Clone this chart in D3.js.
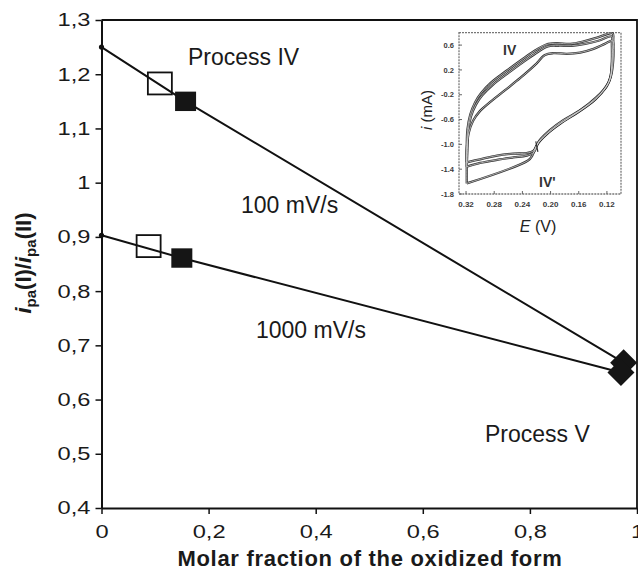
<!DOCTYPE html>
<html>
<head>
<meta charset="utf-8">
<script src="https://cdn.jsdelivr.net/npm/d3@7"></script>
<style>
  html, body { margin: 0; padding: 0; background: #fff; }
  svg { display: block; font-family: "Liberation Sans", Arial, Helvetica, sans-serif; }
</style>
</head>
<body>
<svg id="chart" width="638" height="572"></svg>
<script>
// ---- main plot: peak current ratio vs. molar fraction of the oxidized form ----
const xTickValues = [0, 0.2, 0.4, 0.6, 0.8, 1];
const xTickLabels = ["0", "0,2", "0,4", "0,6", "0,8", "1"];
const yTickValues = [0.4, 0.5, 0.6, 0.7, 0.8, 0.9, 1.0, 1.1, 1.2, 1.3];
const yTickLabels = ["0,4", "0,5", "0,6", "0,7", "0,8", "0,9", "1", "1,1", "1,2", "1,3"];

// 100 mV/s trend line
const fraction100 = [0, 0.157, 0.975];
const ratio100 = [1.25, 1.15, 0.668];
// 1000 mV/s trend line
const fraction1000 = [0, 0.15, 0.97];
const ratio1000 = [0.903, 0.861, 0.65];

// markers: open squares, filled squares, filled diamonds (100 mV/s first, then 1000 mV/s)
const openFraction = [0.109, 0.088];
const openRatio = [1.183, 0.883];
const filledFraction = [0.157, 0.15];
const filledRatio = [1.15, 0.861];
const diamondFraction = [0.975, 0.97];
const diamondRatio = [0.668, 0.65];

// ---- inset: cyclic voltammograms, E (V) vs i (mA) ----
const insetXTicks = [0.32, 0.28, 0.24, 0.20, 0.16, 0.12];
const insetXLabels = ["0.32", "0.28", "0.24", "0.20", "0.16", "0.12"];
const insetYTicks = [0.6, 0.2, -0.2, -0.6, -1.0, -1.4, -1.8];
const insetYLabels = ["0.6", "0.2", "-0.2", "-0.6", "-1.0", "-1.4", "-1.8"];

const cvScan1 = [
  [0.319, -1.29], [0.319, -1.02], [0.318, -0.76], [0.314, -0.52], [0.307, -0.32],
  [0.299, -0.18], [0.285, -0.01], [0.262, 0.19], [0.239, 0.38], [0.221, 0.52],
  [0.206, 0.61], [0.191, 0.63], [0.172, 0.62], [0.153, 0.66], [0.134, 0.72],
  [0.112, 0.79], [0.111, 0.68], [0.111, 0.36], [0.114, 0.11], [0.120, -0.06],
  [0.134, -0.23], [0.158, -0.45], [0.182, -0.61], [0.201, -0.77], [0.216, -0.94],
  [0.224, -1.10], [0.234, -1.14], [0.253, -1.15], [0.276, -1.18], [0.300, -1.24],
  [0.319, -1.29]
];
const cvScan2 = [
  [0.319, -1.36], [0.318, -1.08], [0.317, -0.78], [0.313, -0.55], [0.306, -0.36],
  [0.297, -0.21], [0.282, -0.04], [0.259, 0.16], [0.236, 0.35], [0.218, 0.49],
  [0.204, 0.58], [0.189, 0.59], [0.170, 0.59], [0.151, 0.62], [0.132, 0.67],
  [0.113, 0.74], [0.113, 0.64], [0.113, 0.34], [0.115, 0.09], [0.122, -0.09],
  [0.136, -0.27], [0.160, -0.47], [0.183, -0.64], [0.202, -0.80], [0.217, -0.97],
  [0.224, -1.13], [0.234, -1.18], [0.253, -1.21], [0.276, -1.25], [0.300, -1.30],
  [0.319, -1.36]
];
const cvScan3 = [
  [0.319, -1.63], [0.319, -1.34], [0.319, -1.08], [0.316, -0.81], [0.310, -0.62],
  [0.300, -0.46], [0.286, -0.32], [0.265, -0.13], [0.243, 0.07], [0.222, 0.28],
  [0.208, 0.44], [0.196, 0.47], [0.177, 0.46], [0.158, 0.48], [0.139, 0.54],
  [0.123, 0.62], [0.112, 0.67], [0.112, 0.52], [0.113, 0.26], [0.116, 0.04],
  [0.124, -0.11], [0.138, -0.29], [0.162, -0.49], [0.186, -0.66], [0.204, -0.82],
  [0.219, -1.00], [0.226, -1.18], [0.232, -1.26], [0.319, -1.63]
];
// short slanted mark on the cathodic branch
const cvMark = [[0.221, -0.95], [0.218, -1.12]];

const svg = d3.select("#chart");
svg.append("rect").attr("width", 638).attr("height", 572).attr("fill", "#fff");

const x = d3.scaleLinear().domain([0, 1]).range([101.5, 637]);
const y = d3.scaleLinear().domain([0.4, 1.3]).range([508, 20]);

// frame: top and right borders
svg.append("path")
  .attr("d", `M${x(0)},${y(1.3)}H${x(1)}V${y(0.4)}`)
  .attr("fill", "none").attr("stroke", "#111").attr("stroke-width", 1.8);

// axes
const xAxis = svg.append("g")
  .attr("transform", `translate(0,${y(0.4)})`)
  .call(d3.axisBottom(x).tickValues(xTickValues)
    .tickFormat((d, i) => xTickLabels[i]).tickSize(6).tickPadding(11).tickSizeOuter(0));
const yAxis = svg.append("g")
  .attr("transform", `translate(${x(0)},0)`)
  .call(d3.axisLeft(y).tickValues(yTickValues)
    .tickFormat((d, i) => yTickLabels[i]).tickSize(6).tickSizeOuter(0));

[xAxis, yAxis].forEach(g => {
  g.select(".domain").attr("stroke", "#111").attr("stroke-width", 2);
  g.selectAll(".tick line").attr("stroke", "#111").attr("stroke-width", 1.5);
  g.selectAll(".tick text")
    .attr("fill", "#1a1a1a")
    .attr("font-family", "'Liberation Sans', Arial, sans-serif")
    .attr("font-size", 18.5)
    .attr("transform", "scale(1.28,1)");
});
yAxis.selectAll(".tick text").attr("x", -8.6);

// axis titles
svg.append("text")
  .attr("x", 370).attr("y", 566)
  .attr("text-anchor", "middle")
  .attr("font-size", 22).attr("font-weight", "bold")
  .attr("letter-spacing", 0.7)
  .attr("fill", "#1a1a1a")
  .text("Molar fraction of the oxidized form");

const yTitle = svg.append("text")
  .attr("transform", "translate(31,263) rotate(-90)")
  .attr("text-anchor", "middle")
  .attr("font-size", 22).attr("font-weight", "bold")
  .attr("fill", "#1a1a1a");
yTitle.append("tspan").attr("font-style", "italic").text("i");
yTitle.append("tspan").attr("font-size", 15).attr("dy", 5).text("pa");
yTitle.append("tspan").attr("dy", -5).text("(I)/");
yTitle.append("tspan").attr("font-style", "italic").text("i");
yTitle.append("tspan").attr("font-size", 15).attr("dy", 5).text("pa");
yTitle.append("tspan").attr("dy", -5).text("(II)");

// trend lines
const line = d3.line().x(d => x(d[0])).y(d => y(d[1]));
const series = [
  d3.zip(fraction100, ratio100),
  d3.zip(fraction1000, ratio1000)
];
series.forEach(pts => {
  svg.append("path").datum(pts)
    .attr("d", line)
    .attr("fill", "none").attr("stroke", "#111").attr("stroke-width", 2);
  svg.append("circle")
    .attr("cx", x(pts[0][0])).attr("cy", y(pts[0][1])).attr("r", 2.6)
    .attr("fill", "#111");
});

// open squares
d3.zip(openFraction, openRatio).forEach(([f, r]) => {
  svg.append("rect")
    .attr("x", x(f) - 12).attr("y", y(r) - 11)
    .attr("width", 24).attr("height", 22)
    .attr("fill", "none")
    .attr("stroke", "#111").attr("stroke-width", 1.8);
});
// filled squares
d3.zip(filledFraction, filledRatio).forEach(([f, r]) => {
  svg.append("rect")
    .attr("x", x(f) - 10.5).attr("y", y(r) - 9.7)
    .attr("width", 21).attr("height", 19.4)
    .attr("fill", "#151515");
});
// filled diamonds
d3.zip(diamondFraction, diamondRatio).forEach(([f, r]) => {
  svg.append("path")
    .attr("transform", `translate(${x(f)},${y(r)})`)
    .attr("d", "M0,-13.5L13.5,0L0,13.5L-13.5,0Z")
    .attr("fill", "#151515");
});

// annotations
const notes = [
  { t: "Process IV", x: 188, y: 65 },
  { t: "100 mV/s", x: 241, y: 213 },
  { t: "1000 mV/s", x: 256, y: 338 },
  { t: "Process V", x: 485, y: 442 }
];
svg.selectAll("text.note").data(notes).enter().append("text")
  .attr("class", "note")
  .attr("x", d => d.x).attr("y", d => d.y)
  .attr("font-size", 23).attr("fill", "#1a1a1a")
  .text(d => d.t);

// ---- inset ----
const ix = d3.scaleLinear().domain([0.33, 0.10]).range([459, 621]);
const iy = d3.scaleLinear().domain([-1.8, 0.8]).range([194, 32.7]);
const inset = svg.append("g");

inset.append("rect")
  .attr("x", ix(0.33)).attr("y", iy(0.8))
  .attr("width", ix(0.10) - ix(0.33)).attr("height", iy(-1.8) - iy(0.8))
  .attr("fill", "none").attr("stroke", "#777").attr("stroke-width", 1.3)
  .attr("stroke-dasharray", "2,1");

insetYTicks.forEach((v, i) => {
  inset.append("line")
    .attr("x1", ix(0.33)).attr("x2", ix(0.33) + 3)
    .attr("y1", iy(v)).attr("y2", iy(v))
    .attr("stroke", "#666").attr("stroke-width", 1);
  inset.append("text")
    .attr("x", ix(0.33) - 5).attr("y", iy(v)).attr("dy", "0.35em")
    .attr("text-anchor", "end")
    .attr("font-size", 7.5).attr("font-weight", "bold").attr("fill", "#3a3a3a")
    .text(insetYLabels[i]);
});
insetXTicks.forEach((v, i) => {
  inset.append("line")
    .attr("x1", ix(v)).attr("x2", ix(v))
    .attr("y1", iy(-1.8)).attr("y2", iy(-1.8) - 3)
    .attr("stroke", "#666").attr("stroke-width", 1);
  inset.append("text")
    .attr("x", ix(v)).attr("y", iy(-1.8) + 12.5)
    .attr("text-anchor", "middle")
    .attr("font-size", 8).attr("font-weight", "bold").attr("fill", "#3a3a3a")
    .text(insetXLabels[i]);
});

const cvLine = d3.line().x(d => ix(d[0])).y(d => iy(d[1]))
  .curve(d3.curveCatmullRom.alpha(0.5));
[cvScan1, cvScan2, cvScan3].forEach(scan => {
  inset.append("path").datum(scan).attr("d", cvLine)
    .attr("fill", "none").attr("stroke", "#333").attr("stroke-width", 2.3);
});
[cvScan1, cvScan2, cvScan3].forEach(scan => {
  inset.append("path").datum(scan).attr("d", cvLine)
    .attr("fill", "none").attr("stroke", "#ddd").attr("stroke-width", 0.7);
});
inset.append("path").datum(cvMark).attr("d", d3.line().x(d => ix(d[0])).y(d => iy(d[1])))
  .attr("fill", "none").attr("stroke", "#333").attr("stroke-width", 1.2);

inset.append("text")
  .attr("x", 503).attr("y", 55)
  .attr("font-size", 14).attr("font-weight", "bold").attr("fill", "#333")
  .text("IV");
inset.append("text")
  .attr("x", 539).attr("y", 187)
  .attr("font-size", 14).attr("font-weight", "bold").attr("fill", "#333")
  .text("IV'");

const eTitle = inset.append("text")
  .attr("x", 538).attr("y", 232)
  .attr("text-anchor", "middle")
  .attr("font-size", 16).attr("fill", "#222");
eTitle.append("tspan").attr("font-style", "italic").text("E");
eTitle.append("tspan").text(" (V)");

const iTitle = inset.append("text")
  .attr("transform", "translate(432,110) rotate(-90)")
  .attr("text-anchor", "middle")
  .attr("font-size", 15).attr("fill", "#222");
iTitle.append("tspan").attr("font-style", "italic").text("i");
iTitle.append("tspan").text(" (mA)");
</script>
</body>
</html>
